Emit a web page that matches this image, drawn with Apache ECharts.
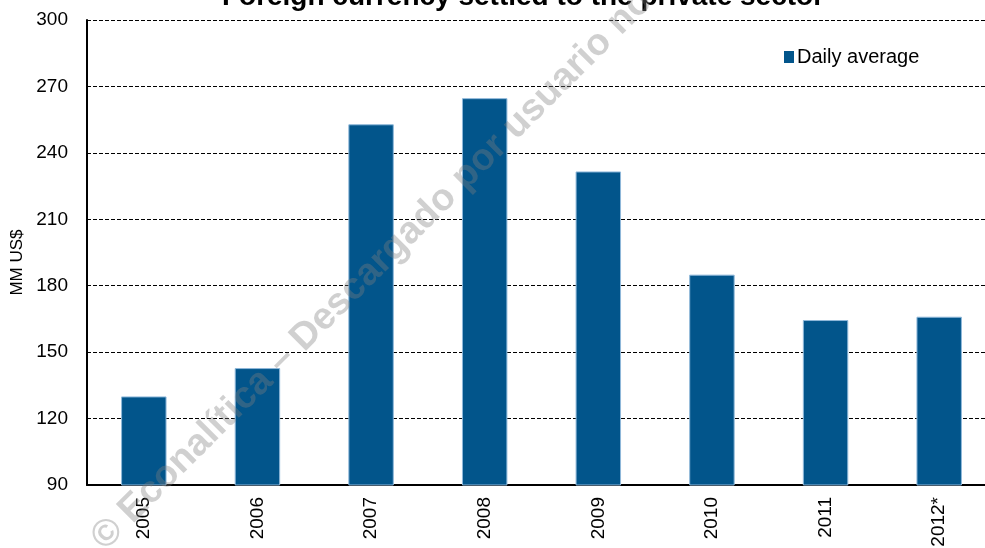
<!DOCTYPE html>
<html>
<head>
<meta charset="utf-8">
<script src="https://cdn.jsdelivr.net/npm/echarts@6/dist/echarts.min.js"></script>
<style>
  html, body { margin: 0; padding: 0; background: #fff; }
  #chart { width: 985px; height: 548px; }
</style>
</head>
<body>
<div id="chart"></div>
<script>
// data
var years = ['2005', '2006', '2007', '2008', '2009', '2010', '2011', '2012*']
var dailyAverage = [130, 142.8, 252.9, 264.7, 231.6, 185, 164.5, 166]
var yTicks = { min: 90, max: 300, step: 30 }

var chart = echarts.init(document.getElementById('chart'))
chart.setOption({
  backgroundColor: '#fff',
  animation: false,
  textStyle: { fontFamily: 'Liberation Sans, Arial, sans-serif' },
  title: {
    text: 'Foreign currency settled to the private sector',
    left: 518,
    textAlign: 'center',
    top: -22,
    textStyle: { fontSize: 28, fontWeight: 'bold', color: '#000' }
  },
  legend: {
    data: ['Daily average'],
    left: 779,
    top: 42,
    itemWidth: 10,
    itemHeight: 12,
    itemGap: 4,
    icon: 'rect',
    itemStyle: { borderWidth: 0 },
    textStyle: { fontSize: 20, color: '#000', padding: [0, 0, 0, -2] }
  },
  grid: {
    left: 87,
    top: 20,
    width: 909,
    height: 465,
    outerBoundsMode: 'none'
  },
  xAxis: {
    type: 'category',
    data: years,
    axisLine: { lineStyle: { color: '#000', width: 2 } },
    axisTick: { show: false },
    axisLabel: { rotate: 90, fontSize: 19, color: '#000', margin: 12 }
  },
  yAxis: {
    type: 'value',
    min: yTicks.min,
    max: yTicks.max,
    interval: yTicks.step,
    name: 'MM US$',
    nameLocation: 'middle',
    nameGap: 57,
    nameTextStyle: { fontSize: 17, color: '#000', padding: [0, 20, 0, 0] },
    axisLine: { show: true, lineStyle: { color: '#000', width: 2 } },
    axisTick: { show: false },
    axisLabel: { fontSize: 19, color: '#000', margin: 19 },
    splitLine: { lineStyle: { color: '#000', type: [4, 2], width: 1 } }
  },
  series: [
    {
      name: 'Daily average',
      type: 'bar',
      data: dailyAverage,
      barWidth: '40%',
      itemStyle: {
        color: '#02558B',
        borderColor: '#8fb8da',
        borderWidth: 1
      }
    }
  ],
  graphic: [
    {
      type: 'text',
      z: 100,
      x: 372,
      y: 270,
      rotation: Math.PI / 4,
      style: {
        text: '© Econalítica – Descargado por usuario no',
        font: 'bold 38px "Liberation Sans", Arial, sans-serif',
        fill: 'rgba(128,128,128,0.37)',
        align: 'center',
        verticalAlign: 'middle'
      }
    }
  ]
})
</script>
</body>
</html>
